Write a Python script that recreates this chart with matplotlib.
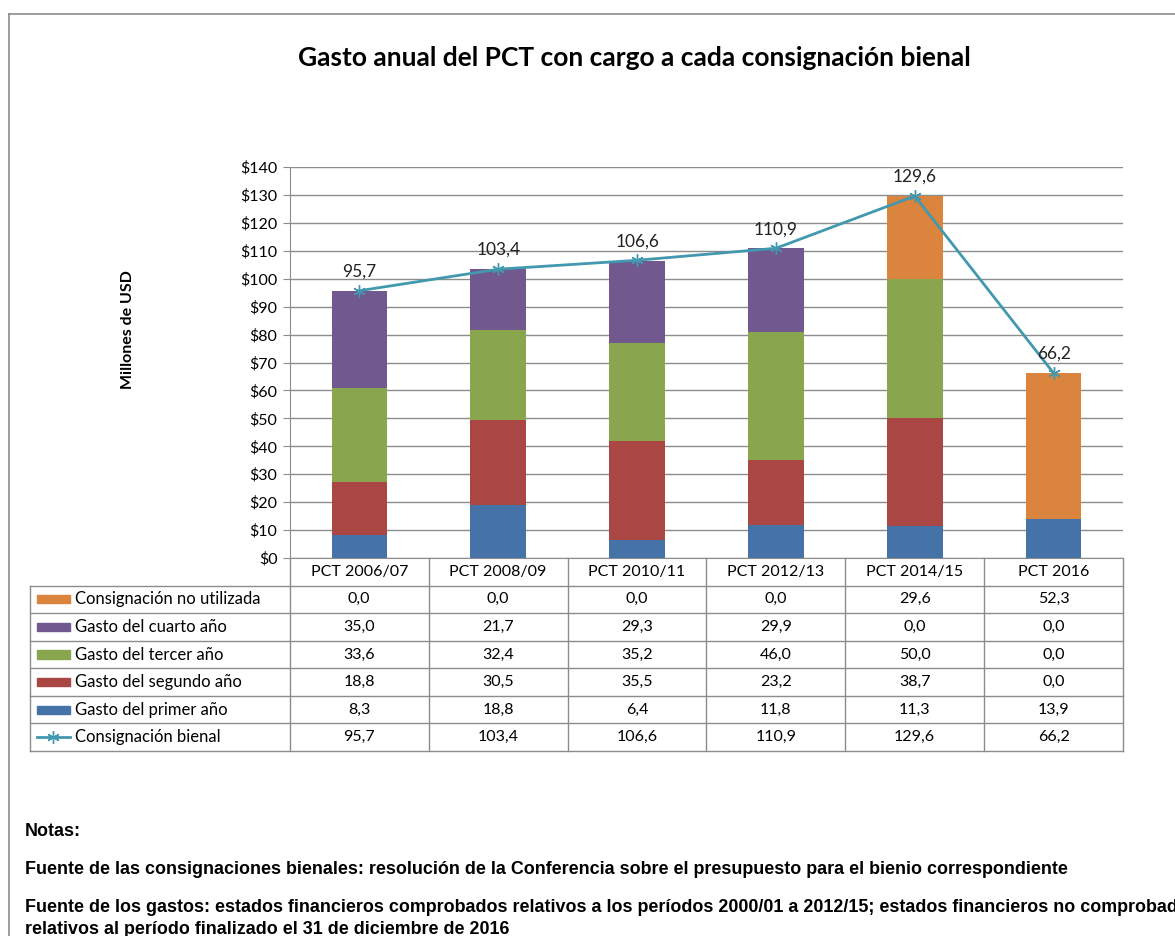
import matplotlib
matplotlib.use("Agg")
import matplotlib.pyplot as plt
import numpy as np
from matplotlib.lines import Line2D
from matplotlib.patches import Rectangle
from matplotlib.ticker import FuncFormatter, MultipleLocator

# data (millones de USD)
periods = ["PCT 2006/07", "PCT 2008/09", "PCT 2010/11", "PCT 2012/13", "PCT 2014/15", "PCT 2016"]
primer = [8.3, 18.8, 6.4, 11.8, 11.3, 13.9]
segundo = [18.8, 30.5, 35.5, 23.2, 38.7, 0.0]
tercer = [33.6, 32.4, 35.2, 46.0, 50.0, 0.0]
cuarto = [35.0, 21.7, 29.3, 29.9, 0.0, 0.0]
no_utilizada = [0.0, 0.0, 0.0, 0.0, 29.6, 52.3]
bienal = [95.7, 103.4, 106.6, 110.9, 129.6, 66.2]

stack = [
    ("Gasto del primer año", primer, "#4572A7"),
    ("Gasto del segundo año", segundo, "#AA4643"),
    ("Gasto del tercer año", tercer, "#89A54E"),
    ("Gasto del cuarto año", cuarto, "#71588F"),
    ("Consignación no utilizada", no_utilizada, "#DB843D"),
]
line_color = "#4198AF"
line_label = "Consignación bienal"

W, H = 1175, 936
fig = plt.figure(figsize=(W / 100, H / 100), dpi=100)
font = "Lato"

def px(x0, y0, x1, y1):
    return [x0 / W, 1 - y1 / H, (x1 - x0) / W, (y1 - y0) / H]

# outer border
fig.add_artist(Line2D([9 / W, 1], [1 - 14 / H, 1 - 14 / H], color="#8c8c8c", lw=1.2))
fig.add_artist(Line2D([9 / W, 9 / W], [0, 1 - 14 / H], color="#8c8c8c", lw=1.2))

fig.text(634 / W, 1 - 58 / H, "Gasto anual del PCT con cargo a cada consignación bienal",
         ha="center", va="center", fontsize=19, fontweight="bold", family=font)

ax = fig.add_axes(px(290, 167, 1123, 558))
x = np.arange(len(periods))
bottom = np.zeros(len(periods))
for name, vals, col in stack:
    ax.bar(x, vals, 0.4, bottom=bottom, color=col, zorder=2)
    bottom += np.array(vals)
ax.plot(x, bienal, color=line_color, lw=2, marker=(6, 2, 0), ms=9, mew=1, zorder=3)
for xi, v in zip(x, bienal):
    ax.annotate(f"{v:.1f}".replace(".", ","), (xi, v), xytext=(0, 8), textcoords="offset points",
                ha="center", va="bottom", fontsize=12.5, family=font, color="#222222")

ax.set_xlim(-0.5, len(periods) - 0.5)
ax.set_ylim(0, 140)
ax.yaxis.set_major_locator(MultipleLocator(10))
ax.yaxis.set_major_formatter(FuncFormatter(lambda v, p: f"${v:.0f}"))
ax.set_xticks([])
ax.grid(axis="y", color="#8c8c8c", lw=1, zorder=0)
ax.set_axisbelow(True)
for s in ["top", "right"]:
    ax.spines[s].set_visible(False)
ax.spines["left"].set_color("#8c8c8c")
ax.spines["bottom"].set_color("#8c8c8c")
ax.tick_params(axis="y", length=5, color="#8c8c8c", labelsize=11.5, pad=4)
for t in ax.get_yticklabels():
    t.set_family(font)
fig.text(128 / W, 1 - 330 / H, "Millones de USD", rotation=90, ha="center", va="center",
         fontsize=11.5, fontweight="bold", family=font)

# data table under the chart
lab_w = 260 / 139
tx = fig.add_axes(px(30, 558, 1123, 751))
x0 = -0.5 - lab_w
tx.set_xlim(x0, len(periods) - 0.5)
tx.set_ylim(7, 0)
tx.axis("off")
gc = "#8c8c8c"
for r in range(1, 8):
    tx.plot([x0, len(periods) - 0.5], [r, r], color=gc, lw=1, clip_on=False)
for k in range(len(periods) + 1):
    tx.plot([k - 0.5, k - 0.5], [0, 7], color=gc, lw=1, clip_on=False)
tx.plot([x0, x0], [1, 7], color=gc, lw=1, clip_on=False)
for i, p in enumerate(periods):
    tx.text(i, 0.5, p, ha="center", va="center", fontsize=11.5, family=font)

rows = [(n, v, c) for n, v, c in stack[::-1]] + [(line_label, bienal, None)]
sw_x = x0 + 7 / 139
sw_w = 33 / 139
for r, (name, vals, col) in enumerate(rows, start=1):
    yc = r + 0.5
    if col is not None:
        tx.add_patch(Rectangle((sw_x, yc - 0.15), sw_w, 0.3, color=col, clip_on=False))
    else:
        tx.plot([sw_x, sw_x + sw_w], [yc, yc], color=line_color, lw=2, clip_on=False)
        tx.plot([sw_x + sw_w / 2], [yc], color=line_color, marker=(6, 2, 0), ms=9, mew=1, clip_on=False)
    tx.text(x0 + 45 / 139, yc, name, ha="left", va="center", fontsize=12, family=font)
    for i, v in enumerate(vals):
        tx.text(i, yc, f"{v:.1f}".replace(".", ","), ha="center", va="center", fontsize=11.5, family=font)

notes = [
    (832, "Notas:"),
    (870, "Fuente de las consignaciones bienales: resolución de la Conferencia sobre el presupuesto para el bienio correspondiente"),
    (908, "Fuente de los gastos: estados financieros comprobados relativos a los períodos 2000/01 a 2012/15; estados financieros no comprobados"),
    (930, "relativos al período finalizado el 31 de diciembre de 2016"),
]
for yy, t in notes:
    fig.text(25 / W, 1 - yy / H, t, ha="left", va="center", fontsize=12.85, fontweight="bold",
             family="Liberation Sans")

fig.savefig("out.png", dpi=100)
